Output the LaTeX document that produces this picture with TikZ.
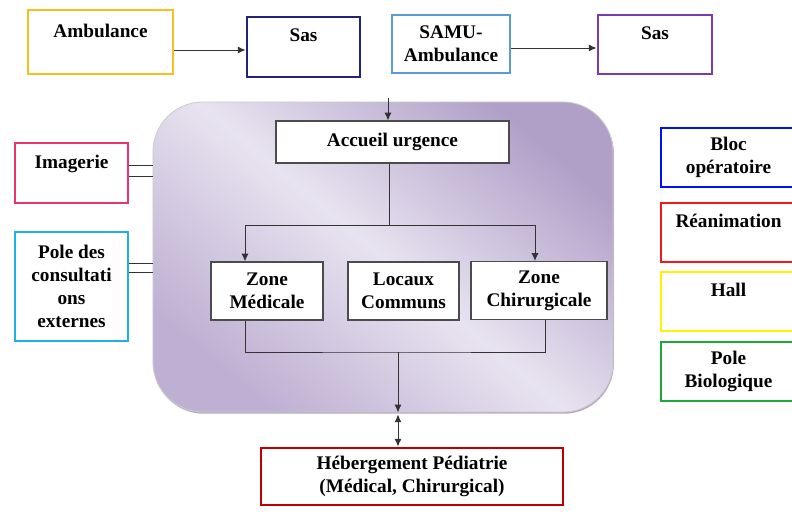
\documentclass[tikz,border=0pt]{standalone}
\usepackage{fontspec}
\setmainfont{Liberation Serif}
\usepackage{tikz}
\usetikzlibrary{arrows.meta,shadows}

\definecolor{ambu}{HTML}{F5C21B}
\definecolor{sasa}{HTML}{25227A}
\definecolor{samu}{HTML}{5B9BD5}
\definecolor{sasb}{HTML}{7A3AB0}
\definecolor{imag}{HTML}{E8336B}
\definecolor{cons}{HTML}{1EB0E6}
\definecolor{bloc}{HTML}{0010F0}
\definecolor{rea}{HTML}{F01818}
\definecolor{hall}{HTML}{FFF200}
\definecolor{bio}{HTML}{1FA83A}
\definecolor{heb}{HTML}{C00000}
\definecolor{lavdark}{RGB}{176,160,200}
\definecolor{lavlight}{RGB}{232,227,240}
\definecolor{lavmid}{RGB}{190,176,210}

\begin{document}
\begin{tikzpicture}[x=0.025cm, y=-0.025cm,
		box/.style={draw, line width=2pt, fill=white, align=center, inner sep=0pt,
			font=\fontsize{13.7}{16.3}\selectfont\bfseries},
		zonebox/.style={draw=black!70, line width=0.8pt, fill=white, align=center, inner sep=0pt,
			font=\fontsize{13.7}{16.3}\selectfont\bfseries},
		frame/.style={draw=black!20, line width=0.6pt, rounded corners=1.25cm,
			top color=lavdark, bottom color=lavmid, middle color=lavlight, shading angle=-40,
			drop shadow={shadow xshift=0.6pt, shadow yshift=-1.2pt, opacity=0.35, fill=violet!50!black}},
		link/.style={draw=black!80, line width=0.7pt},
		arr/.style={link, -{Latex[length=5.5pt,width=5pt]}},
		darr/.style={link, {Latex[length=5.5pt,width=5pt]}-{Latex[length=5.5pt,width=5pt]}}]
			\useasboundingbox (0,0) rectangle (792,512);

			% urgences
			\node[frame, minimum width=11.5cm, minimum height=7.75cm] (urg) at (383,257) {};

			% top row
			\node[box, draw=ambu, minimum width=3.625cm, minimum height=1.6cm] (amb) at (100.5,42) {Ambulance\\\mbox{}};
			\node[box, draw=sasa, minimum width=2.825cm, minimum height=1.5cm] (sasa) at (303.5,47) {Sas\\\mbox{}};
			\node[box, draw=samu, minimum width=2.95cm, minimum height=1.45cm] (samu) at (451,44) {SAMU-\\Ambulance};
			\node[box, draw=sasb, minimum width=2.85cm, minimum height=1.475cm] (sasb) at (655,44.5) {Sas\\\mbox{}};
			\draw[arr] ([yshift=-0.2cm]amb.east) -- ([yshift=-0.2cm]amb.east -| sasa.west);
			\draw[arr] ([yshift=-0.1cm]samu.east) -- ([yshift=-0.1cm]samu.east -| sasb.west);

			% inside
			\node[zonebox, minimum width=5.825cm, minimum height=1.05cm] (acc) at (392.5,142) {Accueil urgence};
			\node[zonebox, minimum width=2.8cm, minimum height=1.45cm] (zm) at (267,291) {Zone\\Médicale};
			\node[zonebox, minimum width=2.775cm, minimum height=1.45cm] (loc) at (403.5,291) {Locaux\\Communs};
			\node[zonebox, minimum width=3.4cm, minimum height=1.45cm] (zc) at (539,290.5) {Zone\\Chirurgicale};

			\coordinate (in) at (388,98);
			\coordinate (fork) at (389,225);
			\coordinate (join) at (398,352);
			\draw[arr] (in) -- (in |- acc.north);
			\draw[link] (fork |- acc.south) -- (fork);
			\draw[arr] (fork) -| ([xshift=-0.55cm]zm.north);
			\draw[arr] (fork) -| ([xshift=-0.1cm]zc.north);
			\draw[link] ([xshift=-0.55cm]zm.south) |- (join) -| ([xshift=0.15cm]zc.south);
			\draw[arr] (join) -- (join |- urg.south);

			% bottom
			\node[box, draw=heb, minimum width=7.55cm, minimum height=1.425cm] (heb) at (412,476.5) {Hébergement Pédiatrie\\(Médical, Chirurgical)};
			\draw[darr] ([yshift=-0.05cm]join |- urg.south) -- (join |- heb.north);

			% left
			\node[box, draw=imag, minimum width=2.825cm, minimum height=1.5cm] (img) at (71.5,173) {Imagerie\\\mbox{}};
			\node[box, draw=cons, minimum width=2.825cm, minimum height=2.725cm] (cons) at (71.5,286.5) {Pole des\\consultati\\ons\\externes};
			\draw[link] ([yshift=0.2cm]img.east) -- ([yshift=0.2cm]img.east -| urg.west);
			\draw[link] ([yshift=-0.075cm]img.east) -- ([yshift=-0.075cm]img.east -| urg.west);
			\draw[link] ([yshift=0.5875cm]cons.east) -- ([yshift=0.5875cm]cons.east -| urg.west);
			\draw[link] ([yshift=0.3625cm]cons.east) -- ([yshift=0.3625cm]cons.east -| urg.west);

			% right
			\node[box, draw=bloc, minimum width=3.375cm, minimum height=1.475cm] (bloc) at (728.5,157.5) {Bloc\\opératoire};
			\node[box, draw=rea, minimum width=3.375cm, minimum height=1.475cm] (rea) at (728.5,232.5) {Réanimation\\\mbox{}};
			\node[box, draw=hall, minimum width=3.375cm, minimum height=1.475cm] (hall) at (728.5,301.5) {Hall\\\mbox{}};
			\node[box, draw=bio, minimum width=3.375cm, minimum height=1.475cm] (bio) at (728.5,371.5) {Pole\\Biologique};
		\end{tikzpicture}
\end{document}
